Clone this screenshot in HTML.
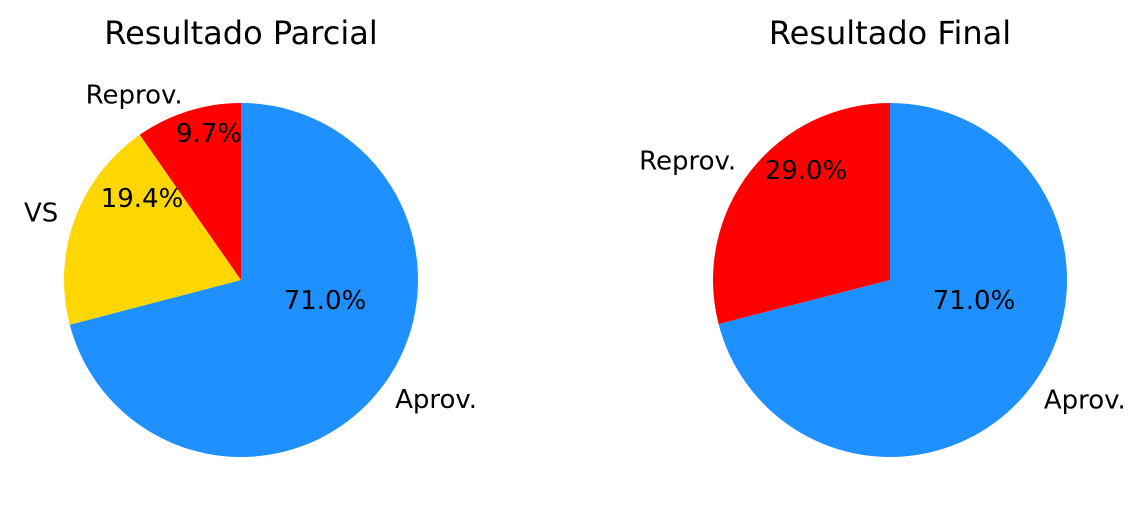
<!DOCTYPE html>
<html><head><meta charset="utf-8"><style>
body{margin:0;background:#fff;}
svg{display:block;font-family:"DejaVu Sans","Liberation Sans",sans-serif;}
</style></head><body>
<svg id="c" width="1147" height="521"></svg>
<script>
const categoriesParcial = ["Aprov.", "VS", "Reprov."];
const valuesParcial = [71.0, 19.4, 9.7];
const colorsParcial = ["#1e90ff", "#ffd700", "#ff0000"];
const categoriesFinal = ["Aprov.", "Reprov."];
const valuesFinal = [71.0, 29.0];
const colorsFinal = ["#1e90ff", "#ff0000"];
const titles = ["Resultado Parcial", "Resultado Final"];

const svg = document.getElementById('c');
const NS = "http://www.w3.org/2000/svg";
function mk(t, a){const e=document.createElementNS(NS,t);for(const k in a)e.setAttribute(k,a[k]);return e;}

function pie(cx, cy, r, cats, vals, cols, title, key){
  const g = mk('g',{});
  
  
  svg.appendChild(g);
  const t = mk('text',{x:cx,y:44,'text-anchor':'middle','font-size':'32'});
  t.textContent = title;
  
  
  g.appendChild(t);
  const total = vals.reduce((a,b)=>a+b,0);
  let ang = 90;
  const toXY=(a,d)=>[cx+d*Math.cos(a*Math.PI/180), cy-d*Math.sin(a*Math.PI/180)];
  vals.forEach((v,i)=>{
    const sweep = v/total*360;
    const a0 = ang, a1 = ang - sweep;
    const [x0,y0]=toXY(a0,r),[x1,y1]=toXY(a1,r);
    const p = mk('path',{d:`M${cx},${cy} L${x0},${y0} A${r},${r} 0 ${sweep>180?1:0} 1 ${x1},${y1} Z`,fill:cols[i]});
    
    
    g.appendChild(p);
    const mid = (a0+a1)/2;
    const [lx,ly]=toXY(mid,1.1*r);
    const lt = mk('text',{x:lx,y:ly+9,'font-size':'26','text-anchor':Math.cos(mid*Math.PI/180)>=0?'start':'end'});
    lt.textContent = cats[i];
    
    
    g.appendChild(lt);
    ang = a1;
  });
}
pie(241,280,177,categoriesParcial,valuesParcial,colorsParcial,titles[0],'parcial');
pie(890,280,177,categoriesFinal,valuesFinal,colorsFinal,titles[1],'final');

const pctPos = [[325,300,valuesParcial[0]],[142,198,valuesParcial[1]],[209,133,valuesParcial[2]],[974,300,valuesFinal[0]],[806,170,valuesFinal[1]]];
pctPos.forEach((p,i)=>{
  const t = mk('text',{x:p[0],y:p[1]+9,'text-anchor':'middle','font-size':'26'});
  t.textContent = p[2].toFixed(1)+'%';
  
  
  svg.appendChild(t);
});
</script>
</body></html>
